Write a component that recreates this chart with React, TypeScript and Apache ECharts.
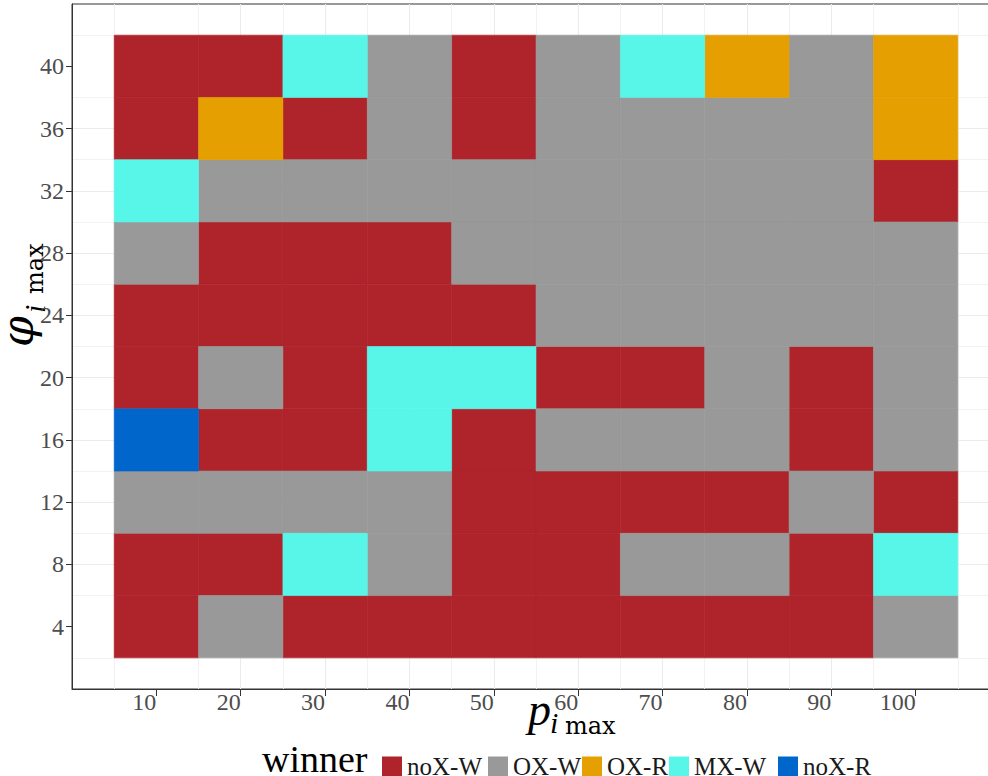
import React, { useEffect, useRef } from "react";
import * as echarts from "echarts";

// Axis levels
const pValues = [10, 20, 30, 40, 50, 60, 70, 80, 90, 100];
const phiValues = [40, 36, 32, 28, 24, 20, 16, 12, 8, 4]; // top row first

// Winner categories and their colours
const winners = ["noX-W", "OX-W", "OX-R", "MX-W", "noX-R"];
const winnerColors = ["#AF232A", "#999999", "#E69F00", "#58F5E9", "#0066CC"];

// Winner of each cell, one row per phi level (top row = 40), columns p = 10..100
const winnerGrid = [
  ["noX-W", "noX-W", "MX-W", "OX-W", "noX-W", "OX-W", "MX-W", "OX-R", "OX-W", "OX-R"],
  ["noX-W", "OX-R", "noX-W", "OX-W", "noX-W", "OX-W", "OX-W", "OX-W", "OX-W", "OX-R"],
  ["MX-W", "OX-W", "OX-W", "OX-W", "OX-W", "OX-W", "OX-W", "OX-W", "OX-W", "noX-W"],
  ["OX-W", "noX-W", "noX-W", "noX-W", "OX-W", "OX-W", "OX-W", "OX-W", "OX-W", "OX-W"],
  ["noX-W", "noX-W", "noX-W", "noX-W", "noX-W", "OX-W", "OX-W", "OX-W", "OX-W", "OX-W"],
  ["noX-W", "OX-W", "noX-W", "MX-W", "MX-W", "noX-W", "noX-W", "OX-W", "noX-W", "OX-W"],
  ["noX-R", "noX-W", "noX-W", "MX-W", "noX-W", "OX-W", "OX-W", "OX-W", "noX-W", "OX-W"],
  ["OX-W", "OX-W", "OX-W", "OX-W", "noX-W", "noX-W", "noX-W", "noX-W", "OX-W", "noX-W"],
  ["noX-W", "noX-W", "MX-W", "OX-W", "noX-W", "noX-W", "OX-W", "OX-W", "noX-W", "MX-W"],
  ["noX-W", "OX-W", "noX-W", "noX-W", "noX-W", "noX-W", "noX-W", "noX-W", "noX-W", "OX-W"],
];

// Tick labels
const xTicks = [10, 20, 30, 40, 50, 60, 70, 80, 90, 100];
const yTicks = [4, 8, 12, 16, 20, 24, 28, 32, 36, 40];

// Left edge of each legend key
const legendLefts = [382, 488, 582, 669, 778];

const FONT = '"Liberation Serif", "DejaVu Serif", serif';
const WIDE_FONT = '"DejaVu Serif", "Liberation Serif", serif';
const X_STEP = pValues[1] - pValues[0];
const Y_STEP = phiValues[0] - phiValues[1];

function cellsFor(name: string) {
  const out: number[][] = [];
  winnerGrid.forEach((row, r) => {
    row.forEach((w, c) => {
      if (w === name) out.push([pValues[c], phiValues[r]]);
    });
  });
  return out;
}

const renderTile = (_params: any, api: any) => {
  const x = api.value(0);
  const y = api.value(1);
  const p0 = api.coord([x - X_STEP / 2, y + Y_STEP / 2]);
  const p1 = api.coord([x + X_STEP / 2, y - Y_STEP / 2]);
  const color = api.visual("color");
  return {
    type: "rect",
    shape: { x: p0[0], y: p0[1], width: p1[0] - p0[0], height: p1[1] - p0[1] },
    style: { fill: color, stroke: color, lineWidth: 0.6 },
  };
};

// text piece positioned by its baseline offset inside a title group
const piece = (
  text: string,
  x: number,
  baseline: number,
  fontSize: number,
  family: string,
  italic: boolean,
  descentRatio: number
) => ({
  type: "text",
  x,
  y: baseline + fontSize * descentRatio,
  style: {
    text,
    fontSize,
    fontStyle: italic ? "italic" : "normal",
    fontFamily: family,
    fill: "#000",
    verticalAlign: "bottom",
  },
});

export default function App() {
  const ref = useRef<HTMLDivElement>(null);

  useEffect(() => {
    if (!ref.current) return;
    const chart = echarts.init(ref.current, null, { renderer: "svg" });

    const axisCommon = {
      type: "value" as const,
      axisLine: { show: true, lineStyle: { color: "#333333", width: 1 } },
      splitLine: {
        show: true,
        showMinLine: false,
        showMaxLine: false,
        lineStyle: { color: "#EBEBEB", width: 1.1 },
      },
      minorTick: { show: false, splitNumber: 2 },
      minorSplitLine: { show: true, lineStyle: { color: "#F1F1F1", width: 0.9 } },
    };

    chart.setOption({
      animation: false,
      backgroundColor: "#ffffff",
      textStyle: { fontFamily: FONT },
      grid: {
        left: 72,
        top: 4,
        right: -12,
        bottom: 87,
        show: true,
        borderColor: "#333333",
        borderWidth: 1,
        backgroundColor: "transparent",
        containLabel: false,
        outerBoundsMode: "none",
      },
      xAxis: {
        ...axisCommon,
        min: 0,
        max: 110,
        interval: 10,
        axisTick: {
          show: true,
          customValues: xTicks,
          length: 7,
          lineStyle: { color: "#333333" },
        },
        axisLabel: {
          customValues: xTicks,
          align: "right",
          margin: 1,
          fontSize: 24,
          fontFamily: FONT,
          color: "#4D4D4D",
        },
      },
      yAxis: {
        ...axisCommon,
        min: 0,
        max: 44,
        interval: 4,
        axisTick: {
          show: true,
          customValues: yTicks,
          length: 6,
          lineStyle: { color: "#333333" },
        },
        axisLabel: {
          customValues: yTicks,
          margin: 8,
          fontSize: 24,
          fontFamily: FONT,
          color: "#4D4D4D",
        },
      },
      legend: winners.map((name, i) => ({
        left: legendLefts[i],
        top: 754,
        padding: 0,
        itemGap: 0,
        itemWidth: 20,
        itemHeight: 20,
        icon: "rect",
        textStyle: { fontSize: 25, fontFamily: FONT, color: "#1A1A1A" },
        data: [name],
      })),
      series: winners.map((name, i) => ({
        type: "custom",
        name,
        renderItem: renderTile,
        encode: { x: 0, y: 1 },
        itemStyle: { color: winnerColors[i] },
        data: cellsFor(name),
      })),
      graphic: [
        // x-axis title: p_{i_max}
        {
          type: "group",
          x: 528,
          y: 725,
          children: [
            piece("p", 0, 0, 46, FONT, true, 0.16),
            piece("i", 22, 8, 30, FONT, true, 0.16),
            piece("max", 37, 9, 24, WIDE_FONT, false, 0.154),
          ],
        },
        // y-axis title: varphi_{i_max}, reading upwards
        {
          type: "group",
          x: 33,
          y: 347,
          rotation: Math.PI / 2,
          children: [
            piece("𝜑", 0, 0, 44, WIDE_FONT, true, 0.154),
            piece("i", 34, 12, 30, FONT, true, 0.16),
            piece("max", 53, 10, 24, WIDE_FONT, false, 0.154),
          ],
        },
        // legend title
        piece("winner", 262, 772, 38, FONT, false, 0.16),
      ],
    });

    return () => chart.dispose();
  }, []);

  return (
    <div
      ref={ref}
      style={{ position: "fixed", left: 0, top: 0, width: 988, height: 776, background: "#fff" }}
    />
  );
}
